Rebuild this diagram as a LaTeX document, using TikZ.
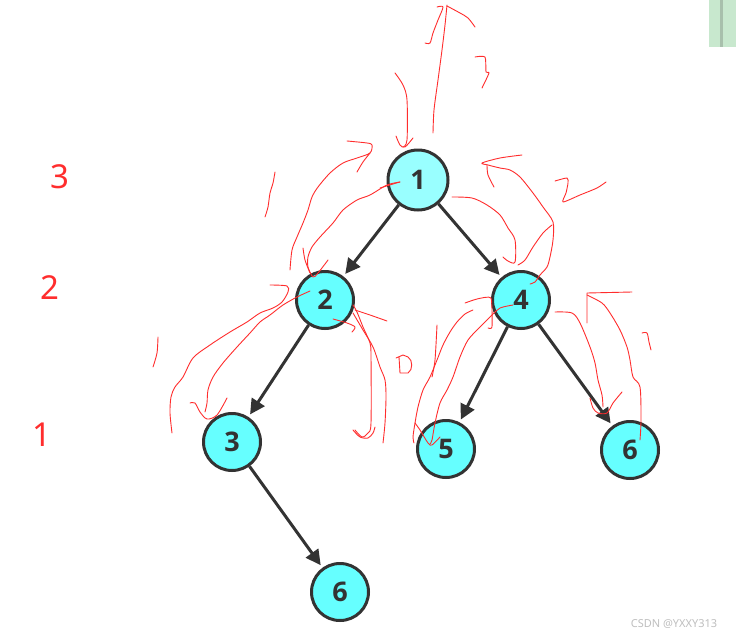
\documentclass[tikz,border=0pt]{standalone}
\usepackage{fontspec}
\setmainfont{Noto Sans}
\newfontfamily\labelfont{Open Sans}
\usetikzlibrary{arrows.meta}
\definecolor{nodefill}{RGB}{102,255,255}
\definecolor{rootfill}{RGB}{153,255,255}
\definecolor{dark}{RGB}{51,51,51}
\definecolor{pen}{RGB}{255,45,45}
\definecolor{greenbar}{RGB}{200,232,206}
\definecolor{greenstripe}{RGB}{168,192,172}
\tikzset{
  treenode/.style={circle, draw=dark, line width=3pt, fill=nodefill, minimum size=57pt, inner sep=0pt,
    font=\labelfont\bfseries\fontsize{27}{30}\selectfont, text=dark},
  edge/.style={draw=dark, line width=3pt, -{Triangle[length=15pt,width=15pt]}, shorten >=3pt, shorten <=0pt},
  hand/.style={draw=pen, line width=0.9pt, line cap=round, line join=round},
  level/.style={text=pen, font=\fontsize{33}{36}\selectfont, inner sep=0pt}
}
\begin{document}
\begin{tikzpicture}[x=1pt,y=-1pt]
\useasboundingbox (0,0) rectangle (736,637);
\fill[white] (0,0) rectangle (736,637);
% green bar
\fill[greenbar] (709,0) rectangle (736,47);
\fill[greenstripe] (720,0) rectangle (723,47);
% tree nodes
\node[treenode, fill=rootfill, minimum size=60pt] (n1) at (418,180) {1};
\node[treenode] (n2) at (325,300) {2};
\node[treenode] (n4) at (521,300) {4};
\node[treenode] (n3) at (232,442) {3};
\node[treenode] (n5) at (446,449) {5};
\node[treenode] (n6a) at (630,450) {6};
\node[treenode] (n6b) at (340,592) {6};
% edges
\draw[edge] (n1) -- (n2);
\draw[edge] (n1) -- (n4);
\draw[edge] (n2) -- (n3);
\draw[edge] (n4) -- (n5);
\draw[edge] (n4) -- (n6a);
\draw[edge] (n3) -- (n6b);
% level numbers
\node[level] (l3) at (60,177) {3};
\node[level] (l2) at (50,288) {2};
\node[level] (l1) at (42,435) {1};
% watermark
\node[text=black!25, font=\fontsize{11}{12}\selectfont, inner sep=0pt] (wm) at (674,624) {CSDN @YXXY313};
% ---- hand-drawn red annotations ----
% up arrow above node 1
\draw[hand] plot[smooth, tension=0.5] coordinates {(433,133) (434,110) (438,80) (442,50) (445,25) (447,5)};
\draw[hand] plot[smooth, tension=0.5] coordinates {(425,43) (430,43) (433,33) (438,20) (443,7) (437,7)};
\draw[hand] plot[smooth, tension=0.5] coordinates {(447,6) (460,13) (468,18) (475,27)};
% hand "3"
\draw[hand] plot[smooth, tension=0.4] coordinates {(475,57) (485,57) (486,72) (489,73) (482,88)};
% down arrow into node 1
\draw[hand] plot[smooth, tension=0.5] coordinates {(395,73) (403,85) (407,100) (407,140) (403,147)};
\draw[hand] plot[smooth, tension=0.5] coordinates {(396,136) (400,145) (405,147) (413,138)};
% outer curve left of node 1 (arrow up to node 1)
\draw[hand] plot[smooth, tension=0.5] coordinates {(290,270) (292,250) (297,237) (303,223) (308,210) (312,197) (318,187) (330,173) (343,163) (357,158) (370,153) (372,145) (367,143) (347,141)};
\draw[hand] plot[smooth, tension=0.5] coordinates {(370,153) (363,162) (357,172)};
% inner curve node 1 -> node 2
\draw[hand] plot[smooth, tension=0.5] coordinates {(380,188) (393,184) (400,182)};
\draw[hand] plot[smooth, tension=0.5] coordinates {(400,182) (387,185) (370,195) (357,200) (343,210) (333,223) (320,237) (312,247) (308,257) (308,267) (313,277) (318,273) (328,260)};
\draw[hand] plot[smooth, tension=0.5] coordinates {(303,248) (305,260) (310,273)};
% small "1" strokes
\draw[hand] plot[smooth, tension=0.5] coordinates {(275,172) (273,183) (270,193) (268,207) (265,217)};
\draw[hand] plot[smooth, tension=0.5] coordinates {(158,337) (157,353) (153,367)};
% node 2 -> node 3 outer
\draw[hand] plot[smooth, tension=0.5] coordinates {(270,285) (287,286) (288,292) (282,302) (273,308) (260,313) (247,322) (230,332) (210,345) (193,358) (183,377) (175,387) (171,397) (170,413) (172,433)};
% node 2 -> node 3 inner
\draw[hand] plot[smooth, tension=0.5] coordinates {(310,291) (297,297) (283,305) (270,315) (260,322) (250,333) (237,347) (223,363) (213,377) (208,390) (207,403) (205,412)};
\draw[hand] plot[smooth, tension=0.5] coordinates {(190,403) (195,403) (200,412) (207,419) (217,415) (227,398)};
% right of node 2 ("D" curve)
\draw[hand] plot[smooth, tension=0.5] coordinates {(353,305) (357,312) (363,327) (370,343) (371,357) (371,423) (368,433) (362,437) (355,430)};
\draw[hand] plot[smooth, tension=0.5] coordinates {(353,313) (363,330) (373,347) (380,367) (385,380) (386,397) (385,423) (383,443)};
\draw[hand] plot[smooth, tension=0.5] coordinates {(355,310) (370,315) (387,321)};
\draw[hand] plot[smooth, tension=0.5] coordinates {(333,319) (347,323) (355,327) (352,332)};
\draw[hand] plot[smooth, tension=0.5] coordinates {(353,430) (360,437) (368,438) (373,433) (375,427)};
% letter D
\draw[hand] (399,357) -- (400,373) -- (408,373) .. controls (413,370) and (413,360) .. (408,357) -- (403,355) -- (396,358);
% node 1 -> node 4
\draw[hand] plot[smooth, tension=0.5] coordinates {(452,197) (472,198) (487,205) (500,215) (508,228) (515,240) (515,262) (508,261) (503,257)};
% node 4 -> node 1 (arrow)
\draw[hand] plot[smooth, tension=0.5] coordinates {(530,284) (535,282) (540,275) (547,267) (550,257) (553,240) (553,222) (543,207) (533,193) (520,177) (510,170) (500,168) (488,165) (482,163) (500,158) (522,155)};
\draw[hand] plot[smooth, tension=0.5] coordinates {(487,165) (488,175) (494,187)};
\draw[hand] plot[smooth, tension=0.5] coordinates {(518,265) (525,260) (533,247) (543,233) (552,225)};
% hand "2"
\draw[hand] plot[smooth, tension=0.4] coordinates {(555,181) (567,178) (568,183) (566,193) (563,202) (580,195) (597,188) (606,182)};
% node 4 -> node 5
\draw[hand] plot[smooth, tension=0.5] coordinates {(473,310) (465,314) (457,322) (450,332) (443,345) (437,360) (430,377) (423,390) (418,407) (415,423) (413,437) (414,443)};
\draw[hand] plot[smooth, tension=0.5] coordinates {(513,305) (500,308) (492,315) (480,327) (468,340) (460,357) (453,377) (447,390) (440,403) (435,423) (432,440) (430,444)};
\draw[hand] plot[smooth, tension=0.5] coordinates {(415,423) (420,430) (428,443) (432,445) (440,437)};
\draw[hand] plot[smooth, tension=0.5] coordinates {(437,325) (435,360) (432,377)};
\draw[hand] plot[smooth, tension=0.3] coordinates {(465,303) (477,299) (491,298) (492,327) (488,328)};
% node 4 -> node 6
\draw[hand] plot[smooth, tension=0.5] coordinates {(555,312) (572,313) (580,323) (590,347) (595,363) (598,380) (602,395) (603,407)};
\draw[hand] plot[smooth, tension=0.5] coordinates {(590,398) (593,408) (598,413) (607,413) (613,403) (622,392)};
\draw[hand] (587,323) -- (587,293) -- (632,292);
\draw[hand] plot[smooth, tension=0.5] coordinates {(587,295) (602,303) (610,313) (620,330) (627,347) (630,360) (633,377) (640,387) (641,420) (640,440)};
\draw[hand] plot[smooth, tension=0.5] coordinates {(642,333) (647,333) (649,342) (651,350)};
\end{tikzpicture}
\end{document}
